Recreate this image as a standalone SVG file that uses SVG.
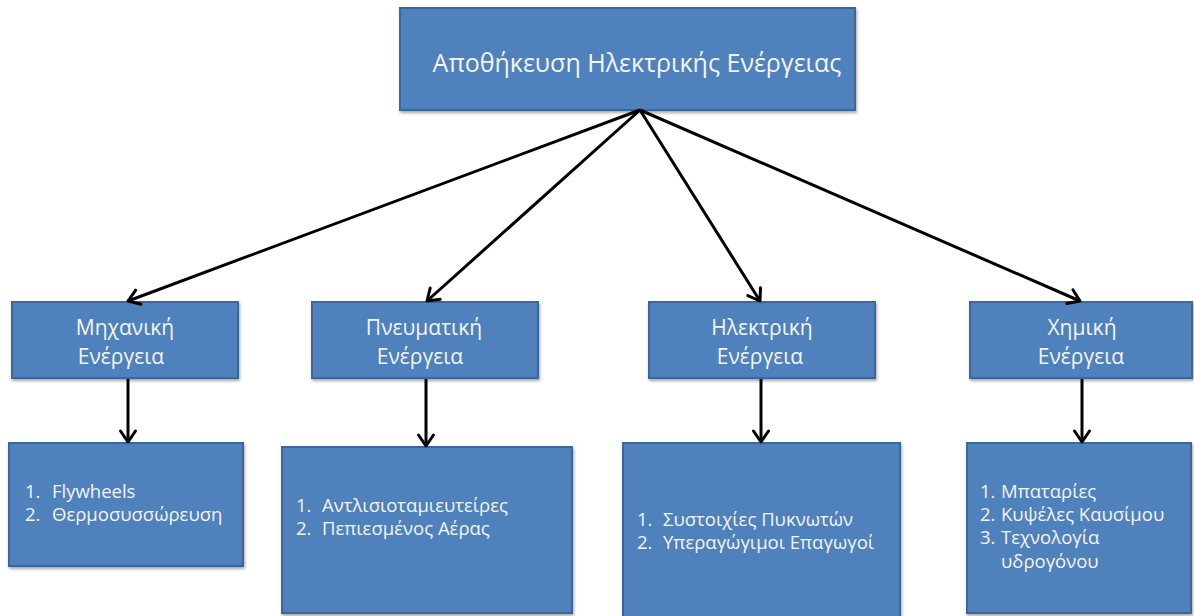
<svg xmlns="http://www.w3.org/2000/svg" width="1194" height="616" viewBox="0 0 1194 616">
  <style>
    .box { fill: #4F81BD; stroke: #3A679C; stroke-width: 2; filter: url(#sh); }
    .t { font-family: "Open Sans", "Noto Sans", "DejaVu Sans", sans-serif; fill: #F3F5F9; }
    .title { font-size: 25px; text-anchor: middle; }
    .h2 { font-size: 21px; text-anchor: middle; }
    .li { font-size: 18.5px; }
    .conn line { stroke: #000; stroke-width: 3; marker-end: url(#ah); }
  </style>
  <defs>
    <filter id="sh" x="-5%" y="-5%" width="115%" height="120%">
      <feDropShadow dx="1" dy="2" stdDeviation="1.5" flood-color="#000" flood-opacity="0.35"/>
    </filter>
    <marker id="ah" markerUnits="userSpaceOnUse" markerWidth="20" markerHeight="20" refX="14" refY="10" orient="auto" viewBox="0 0 20 20">
      <path d="M3,2.5 L14,10 L3,17.5" fill="none" stroke="#000" stroke-width="3" stroke-linecap="round" stroke-linejoin="round"/>
    </marker>
  </defs>
  <rect width="1194" height="616" fill="#FFFFFF"/>

  <g id="root">
    <rect class="box" x="400" y="8" width="455" height="102"/>
    <text class="t title" x="637" y="72">Αποθήκευση Ηλεκτρικής Ενέργειας</text>
  </g>

  <g id="mech">
    <rect class="box" x="12" y="302" width="226" height="76"/>
    <text class="t h2" x="125" y="335">Μηχανική</text>
    <text class="t h2" x="121" y="364">Ενέργεια</text>
  </g>
  <g id="pneu">
    <rect class="box" x="312" y="302" width="226" height="76"/>
    <text class="t h2" x="424" y="335">Πνευματική</text>
    <text class="t h2" x="420" y="364">Ενέργεια</text>
  </g>
  <g id="elec">
    <rect class="box" x="649" y="302" width="226" height="76"/>
    <text class="t h2" x="762" y="335">Ηλεκτρική</text>
    <text class="t h2" x="760" y="364">Ενέργεια</text>
  </g>
  <g id="chem">
    <rect class="box" x="970" y="302" width="222" height="76"/>
    <text class="t h2" x="1082" y="335">Χημική</text>
    <text class="t h2" x="1081" y="364">Ενέργεια</text>
  </g>

  <g id="mech-list">
    <rect class="box" x="9" y="443" width="234" height="123"/>
    <text class="t li" x="25" y="498">1.</text>
    <text class="t li" x="52" y="498">Flywheels</text>
    <text class="t li" x="25" y="521">2.</text>
    <text class="t li" x="52" y="521">Θερμοσυσσώρευση</text>
  </g>
  <g id="pneu-list">
    <rect class="box" x="282" y="447" width="290" height="166"/>
    <text class="t li" x="296" y="512">1.</text>
    <text class="t li" x="322" y="512">Αντλισιοταμιευτείρες</text>
    <text class="t li" x="296" y="535">2.</text>
    <text class="t li" x="322" y="535">Πεπιεσμένος Αέρας</text>
  </g>
  <g id="elec-list">
    <rect class="box" x="623" y="443" width="277" height="180"/>
    <text class="t li" x="637" y="526">1.</text>
    <text class="t li" x="663" y="526">Συστοιχίες Πυκνωτών</text>
    <text class="t li" x="637" y="549">2.</text>
    <text class="t li" x="663" y="549">Υπεραγώγιμοι Επαγωγοί</text>
  </g>
  <g id="chem-list">
    <rect class="box" x="967" y="443" width="224" height="170"/>
    <text class="t li" x="980" y="498">1.</text>
    <text class="t li" x="1001" y="498">Μπαταρίες</text>
    <text class="t li" x="980" y="521">2.</text>
    <text class="t li" x="1001" y="521">Κυψέλες Καυσίμου</text>
    <text class="t li" x="980" y="544">3.</text>
    <text class="t li" x="1001" y="544">Τεχνολογία</text>
    <text class="t li" x="1001" y="568">υδρογόνου</text>
  </g>

  <g id="connectors" class="conn">
    <line x1="640" y1="110" x2="128" y2="301"/>
    <line x1="640" y1="110" x2="427" y2="301"/>
    <line x1="640" y1="110" x2="760" y2="301"/>
    <line x1="640" y1="110" x2="1080" y2="301"/>
    <line x1="128" y1="379" x2="128" y2="442"/>
    <line x1="426" y1="379" x2="426" y2="446"/>
    <line x1="761" y1="379" x2="761" y2="442"/>
    <line x1="1082" y1="379" x2="1082" y2="442"/>
  </g>
</svg>
